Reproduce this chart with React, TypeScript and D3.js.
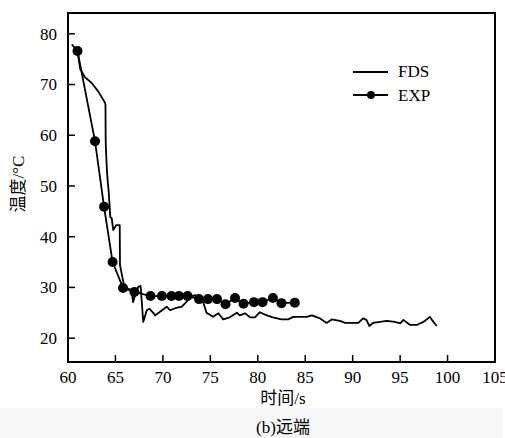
import React from 'react';
import * as d3 from 'd3';

// FDS simulation curve (time in s, temperature in °C)
const fdsTime = [60.4, 61.0, 61.3, 61.8, 62.5, 63.2, 63.9, 63.95, 63.97, 64.0, 64.1, 64.2, 64.3, 64.45, 64.6, 64.77,
	65.1, 65.45, 65.48, 65.85, 66.2, 66.7, 66.85, 67.15, 67.4, 67.65, 67.93, 68.3, 68.6, 69.2, 69.7, 70.4, 70.75,
	71.3, 72.0, 72.5, 73.0, 73.4, 73.75, 74.1, 74.6, 75.3, 75.85, 76.35, 77.05, 77.8, 78.1, 78.65, 79.2, 79.7,
	80.2, 80.95, 81.6, 82.5, 83.2, 83.75, 85.15, 85.7, 86.55, 87.25, 87.8, 88.65, 89.2, 90.6, 91.1, 91.45, 91.75,
	92.15, 93.6, 94.45, 95.0, 95.35, 96.05, 96.75, 97.45, 98.15, 98.35, 98.85];
const fdsTemp = [77.9, 76.6, 73.0, 71.4, 70.3, 68.6, 66.4, 66.0, 59.1, 57.2, 53.2, 50.6, 48.7, 43.9, 43.7, 41.3,
	42.3, 42.3, 34.4, 30.9, 29.8, 29.5, 27.1, 28.9, 30.1, 30.3, 23.2, 25.5, 25.8, 24.5, 25.2, 26.2, 25.5,
	25.9, 26.2, 27.2, 28.2, 28.5, 27.2, 27.9, 25.0, 24.2, 24.9, 23.7, 24.1, 25.0, 24.5, 24.9, 24.1, 24.1,
	25.1, 24.5, 24.1, 23.7, 23.7, 24.2, 24.2, 24.5, 23.9, 23.0, 23.7, 23.4, 23.0, 23.0, 23.9, 23.6, 22.4,
	23.0, 23.4, 23.2, 22.9, 23.6, 22.6, 22.6, 23.2, 24.2, 23.6, 22.4];

// measured points
const expTime = [61.0, 62.85, 63.8, 64.7, 65.8, 67.0, 68.7, 69.9, 70.9, 71.7, 72.6, 73.8, 74.75, 75.7, 76.6,
	77.6, 78.5, 79.6, 80.5, 81.6, 82.5, 83.9];
const expTemp = [76.6, 58.8, 45.9, 35.0, 29.9, 29.1, 28.3, 28.3, 28.3, 28.3, 28.3, 27.7, 27.7, 27.7, 26.7,
	27.9, 26.8, 27.1, 27.1, 27.9, 26.9, 27.0];

const xTicks = [60, 65, 70, 75, 80, 85, 90, 95, 100, 105];
const yTicks = [20, 30, 40, 50, 60, 70, 80];

const latin = { fontFamily: '"Liberation Serif", monospace' };
const cjk = { fontFamily: '"Noto Sans CJK SC", monospace' };

export default function App() {
	const left = 68, right = 495, top = 13, bottom = 362;
	const x = d3.scaleLinear().domain([60, 105]).range([left, right]);
	const y = d3.scaleLinear().domain([15.3, 84.1]).range([bottom, top]);

	const line = d3.line<[number, number]>()
		.x(d => x(d[0]))
		.y(d => y(d[1]));

	const fds: [number, number][] = fdsTime.map((t, i) => [t, fdsTemp[i]]);
	const exp: [number, number][] = expTime.map((t, i) => [t, expTemp[i]]);

	return (
		<svg width={505} height={438} style={{ position: 'absolute', left: 0, top: 0, background: '#fff' }}>
			<rect x={0} y={408} width={503} height={30} fill="#f7f7f7" />

			<path d={line(fds) || ''} fill="none" stroke="#000" strokeWidth={1.8} strokeLinejoin="round" />
			<path d={line(exp) || ''} fill="none" stroke="#000" strokeWidth={1.8} />
			{exp.map((d, i) => (
				<circle key={i} cx={x(d[0])} cy={y(d[1])} r={5} fill="#000" />
			))}

			{/* frame */}
			<rect x={left} y={top} width={right - left} height={bottom - top} fill="none" stroke="#000" strokeWidth={2} />

			{/* x ticks */}
			{xTicks.map(t => (
				<g key={t}>
					<line x1={x(t)} x2={x(t)} y1={bottom} y2={bottom - 7} stroke="#000" strokeWidth={1.5} />
					<text x={x(t)} y={383} textAnchor="middle" fontSize={17} style={latin}>{t}</text>
				</g>
			))}
			{/* y ticks */}
			{yTicks.map(t => (
				<g key={t}>
					<line x1={left} x2={left + 7} y1={y(t)} y2={y(t)} stroke="#000" strokeWidth={1.5} />
					<text x={57} y={y(t)} dy="0.35em" textAnchor="end" fontSize={17} style={latin}>{t}</text>
				</g>
			))}

			<text x={283} y={404} textAnchor="middle" fontSize={17} style={latin}>
				<tspan style={cjk}>时间</tspan>/s
			</text>
			<text x={283} y={433} textAnchor="middle" fontSize={17} style={latin}>
				(b)<tspan style={cjk}>远端</tspan>
			</text>
			<text transform="translate(24,184) rotate(-90)" textAnchor="middle" fontSize={17} style={latin}>
				<tspan style={cjk}>温度</tspan>/°C
			</text>

			{/* legend */}
			<line x1={353} x2={388} y1={72} y2={72} stroke="#000" strokeWidth={1.8} />
			<text x={398} y={77} fontSize={17} style={latin}>FDS</text>
			<line x1={353} x2={388} y1={95} y2={95} stroke="#000" strokeWidth={1.8} />
			<circle cx={371} cy={95} r={4} fill="#000" />
			<text x={398} y={101} fontSize={17} style={latin}>EXP</text>
		</svg>
	);
}
